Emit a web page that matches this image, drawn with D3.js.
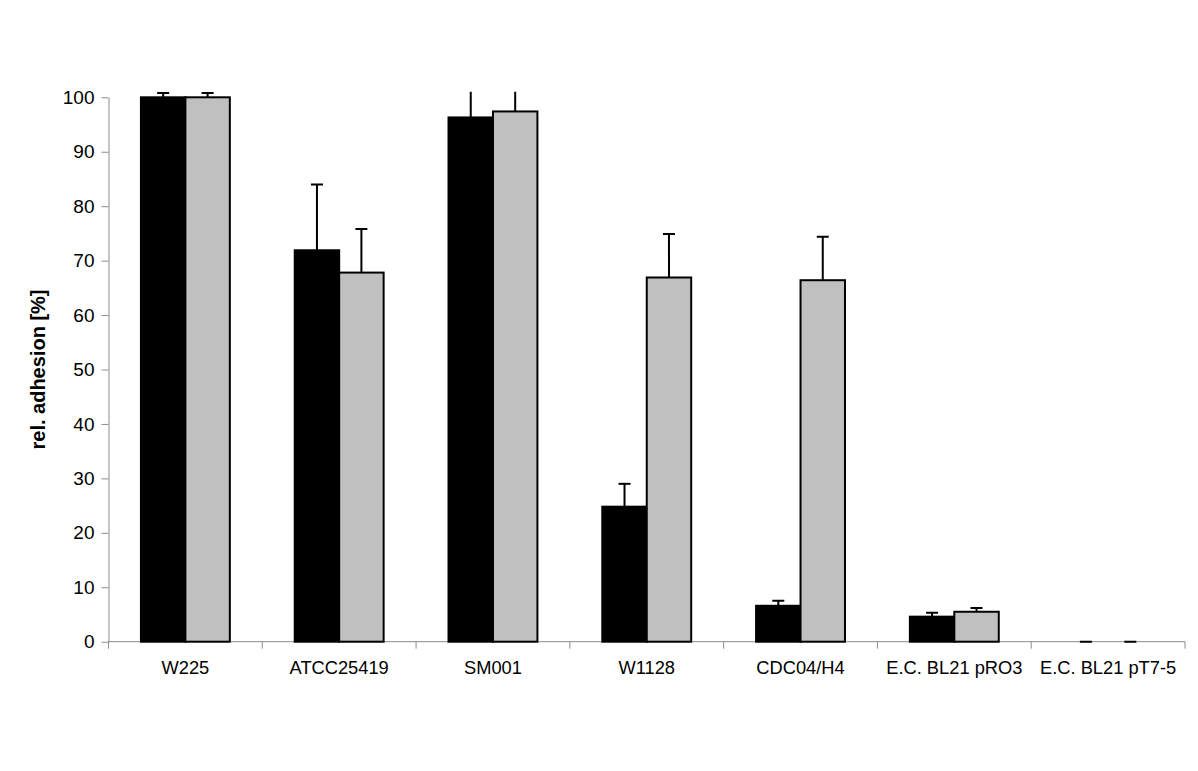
<!DOCTYPE html>
<html>
<head>
<meta charset="utf-8">
<script src="https://cdn.jsdelivr.net/npm/d3@7"></script>
<style>
  body { margin: 0; background: #fff; }
  text { font-family: "Liberation Sans", Arial, sans-serif; }
</style>
</head>
<body>
<div id="chart"></div>
<script>
const categories = ["W225", "ATCC25419", "SM001", "W1128", "CDC04/H4", "E.C. BL21 pRO3", "E.C. BL21 pT7-5"];
const series = ["black", "gray"];
const blackValues = [100, 71.9, 96.3, 24.8, 6.6, 4.6, 0];
const blackErrors = [0.8, 12.1, 6, 4.2, 0.9, 0.7, 0];
const grayValues = [100, 67.8, 97.4, 66.9, 66.4, 5.5, 0];
const grayErrors = [0.8, 8.0, 6, 8.0, 8.0, 0.7, 0];
const yTicks = [0, 10, 20, 30, 40, 50, 60, 70, 80, 90, 100];

const width = 1198, height = 771;
const margin = { top: 97.3, right: 13, bottom: 129.3, left: 108.5 };
const colors = { black: "#000000", gray: "#c0c0c0" };

const data = categories.map((c, i) => ({
  label: c,
  bars: [
    { key: "black", value: blackValues[i], err: blackErrors[i] },
    { key: "gray", value: grayValues[i], err: grayErrors[i] }
  ]
}));

const svg = d3.select("#chart").append("svg")
  .attr("width", width)
  .attr("height", height);

// category bands
const x0 = d3.scaleBand()
  .domain(categories)
  .range([margin.left, width - margin.right])
  .padding(0);

// the two bars inside a category
const x1 = d3.scaleBand()
  .domain(series)
  .range([0, x0.bandwidth()])
  .paddingInner(0)
  .paddingOuter(0.73);

const y = d3.scaleLinear()
  .domain([0, 100])
  .range([height - margin.bottom, margin.top]);

svg.append("defs").append("clipPath").attr("id", "plot")
  .append("rect")
  .attr("x", margin.left)
  .attr("y", y(101))
  .attr("width", width - margin.left - margin.right)
  .attr("height", y(0) - y(101) + 2);

// y axis
const yAxis = svg.append("g")
  .attr("transform", `translate(${margin.left},0)`)
  .call(d3.axisLeft(y).tickValues(yTicks).tickSize(7).tickSizeOuter(0).tickPadding(7));
yAxis.select(".domain").attr("stroke", "#8c8c8c");
yAxis.selectAll(".tick line").attr("stroke", "#8c8c8c");
yAxis.selectAll(".tick text").attr("font-size", 19).attr("fill", "#000");

// x axis with ticks at category boundaries
const xAxisG = svg.append("g")
  .attr("transform", `translate(0,${y(0)})`);
xAxisG.append("line")
  .attr("x1", margin.left).attr("x2", width - margin.right)
  .attr("stroke", "#8c8c8c");
const bounds = categories.map(c => x0(c)).concat([x0(categories[categories.length - 1]) + x0.bandwidth()]);
xAxisG.selectAll("line.tk").data(bounds).join("line")
  .attr("class", "tk")
  .attr("x1", d => d).attr("x2", d => d)
  .attr("y1", 0).attr("y2", 7)
  .attr("stroke", "#8c8c8c");
xAxisG.selectAll("text").data(categories).join("text")
  .attr("x", d => x0(d) + x0.bandwidth() / 2)
  .attr("y", 32)
  .attr("text-anchor", "middle")
  .attr("font-size", 18.3)
  .text(d => d);

// y axis title
svg.append("text")
  .attr("transform", `translate(45,${y(50)}) rotate(-90)`)
  .attr("text-anchor", "middle")
  .attr("font-size", 20)
  .attr("font-weight", "bold")
  .text("rel. adhesion [%]");

const plot = svg.append("g").attr("clip-path", "url(#plot)");

const groups = plot.selectAll("g.cat").data(data).join("g")
  .attr("class", "cat")
  .attr("transform", d => `translate(${x0(d.label)},0)`);

// error bars (upper only), drawn before bars
groups.selectAll("g.err").data(d => d.bars.filter(b => b.value > 0)).join("g")
  .attr("class", "err")
  .each(function (b) {
    const g = d3.select(this);
    const cx = x1(b.key) + x1.bandwidth() / 2;
    g.append("line")
      .attr("x1", cx).attr("x2", cx)
      .attr("y1", y(b.value)).attr("y2", y(b.value + b.err))
      .attr("stroke", "#000").attr("stroke-width", 2);
    g.append("line")
      .attr("x1", cx - 6).attr("x2", cx + 6)
      .attr("y1", y(b.value + b.err)).attr("y2", y(b.value + b.err))
      .attr("stroke", "#000").attr("stroke-width", 2);
  });

groups.selectAll("rect").data(d => d.bars.filter(b => b.value > 0)).join("rect")
  .attr("x", b => x1(b.key))
  .attr("y", b => y(b.value))
  .attr("width", x1.bandwidth())
  .attr("height", b => y(0) - y(b.value))
  .attr("fill", b => colors[b.key])
  .attr("stroke", "#000")
  .attr("stroke-width", 2);

// zero-height bars show only as a short dash
groups.selectAll("line.zero").data(d => d.bars.filter(b => b.value === 0)).join("line")
  .attr("class", "zero")
  .attr("x1", b => x1(b.key) + x1.bandwidth() / 2 - 6)
  .attr("x2", b => x1(b.key) + x1.bandwidth() / 2 + 6)
  .attr("y1", y(0)).attr("y2", y(0))
  .attr("stroke", "#000").attr("stroke-width", 2);
</script>
</body>
</html>
